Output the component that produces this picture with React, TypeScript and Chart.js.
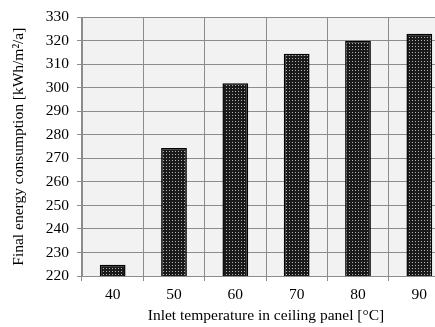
import React, { useEffect, useRef } from "react";
import { Chart, registerables } from "chart.js";

Chart.register(...registerables);

const categories = ["40", "50", "60", "70", "80", "90"];
const consumption = [224.8, 274.4, 302, 314.5, 320, 323];
const yMin = 220;
const yMax = 330;
const yStep = 10;

const FONT = "'Liberation Serif', 'Times New Roman', serif";
const FS = 15.5;

function makePattern(): CanvasPattern | string {
  const c = document.createElement("canvas");
  c.width = 3;
  c.height = 3;
  const ctx = c.getContext("2d");
  if (!ctx) return "#222";
  ctx.fillStyle = "#1a1a1a";
  ctx.fillRect(0, 0, 3, 3);
  ctx.fillStyle = "#b4b4b4";
  ctx.fillRect(1, 1, 1, 1);
  const p = ctx.createPattern(c, "repeat");
  return p || "#222";
}

const bgPlugin = {
  id: "plotBg",
  beforeDraw(chart: any) {
    const { ctx, chartArea } = chart;
    if (!chartArea) return;
    ctx.save();
    ctx.fillStyle = "#f2f2f2";
    ctx.fillRect(chartArea.left, chartArea.top, chartArea.right - chartArea.left, chartArea.bottom - chartArea.top);
    ctx.restore();
  },
};

export default function App() {
  const ref = useRef<HTMLCanvasElement>(null);
  useEffect(() => {
    if (!ref.current) return;
    const chart = new Chart(ref.current, {
      type: "bar",
      data: {
        labels: categories,
        datasets: [
          {
            data: consumption,
            backgroundColor: makePattern() as any,
            borderColor: "#000",
            borderWidth: 1.5,
            barPercentage: 0.42,
            categoryPercentage: 1,
          },
        ],
      },
      options: {
        animation: false,
        responsive: false,
        maintainAspectRatio: false,
        layout: { padding: { top: 16, left: 0, right: 0, bottom: 0 } },
        plugins: {
          legend: { display: false },
          tooltip: { enabled: false },
        },
        scales: {
          x: {
            grid: { color: "#8c8c8c", lineWidth: 1, offset: true, drawTicks: true, tickLength: 5 },
            border: { color: "#8c8c8c" },
            ticks: { color: "#000", font: { family: FONT, size: FS }, padding: 5 },
            title: {
              display: true,
              text: "Inlet temperature in ceiling panel [°C]",
              color: "#000",
              font: { family: FONT, size: FS },
              padding: { top: 0, bottom: 1.5 },
            },
            afterFit(scale: any) {
              scale.height = 51;
            },
          },
          y: {
            min: yMin,
            max: yMax,
            grid: { color: "#8c8c8c", lineWidth: 1, tickLength: 5 },
            border: { color: "#8c8c8c" },
            ticks: { stepSize: yStep, color: "#000", font: { family: FONT, size: FS }, padding: 8 },
            title: {
              display: true,
              text: "Final energy consumption [kWh/m²/a]",
              color: "#000",
              font: { family: FONT, size: FS },
              padding: { top: 10, bottom: 4 },
            },
            afterFit(scale: any) {
              scale.width = 82;
            },
          },
        },
      },
      plugins: [bgPlugin],
    });
    return () => chart.destroy();
  }, []);
  return (
    <div style={{ position: "fixed", left: 0, top: 0, width: 450, height: 327, background: "#fff" }}>
      <canvas ref={ref} width={450} height={327} style={{ width: 450, height: 327 }} />
    </div>
  );
}
